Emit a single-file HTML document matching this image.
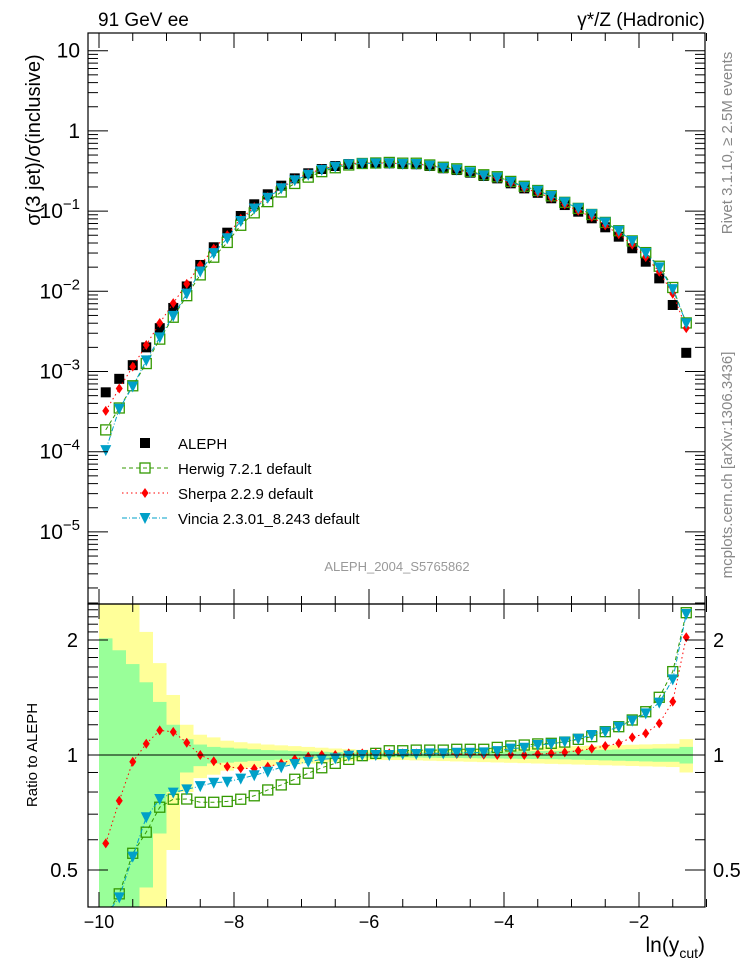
<!DOCTYPE html>
<html><head><meta charset="utf-8"><style>
body{margin:0;background:#fff;overflow:hidden}
svg{display:block;font-family:"Liberation Sans",sans-serif}
</style></head><body>
<svg id="c" width="746" height="972" xmlns="http://www.w3.org/2000/svg">
<defs>
<clipPath id="cm"><rect x="88" y="33" width="617" height="571"/></clipPath>
<clipPath id="cr"><rect x="88" y="604" width="617" height="303"/></clipPath>
</defs>
<g id="bands" clip-path="url(#cr)"></g>
<g id="marks"></g>
<g id="axes"></g>
<text x="98" y="26" font-size="19">91 GeV ee</text>
<text x="705" y="26" font-size="19" text-anchor="end">γ*/Z (Hadronic)</text>
<text transform="translate(40,140) rotate(-90)" font-size="20" text-anchor="middle">σ(3 jet)/σ(inclusive)</text>
<text transform="translate(37,755) rotate(-90)" font-size="15" text-anchor="middle">Ratio to ALEPH</text>
<text transform="translate(732,143) rotate(-90)" font-size="15" fill="#888" text-anchor="middle">Rivet 3.1.10, ≥ 2.5M events</text>
<text transform="translate(732,465) rotate(-90)" font-size="15" fill="#888" text-anchor="middle">mcplots.cern.ch [arXiv:1306.3436]</text>
<text x="397" y="571" font-size="13" fill="#999" text-anchor="middle">ALEPH_2004_S5765862</text>
<text x="705" y="952" font-size="21" text-anchor="end">ln(y<tspan font-size="14" dy="6">cut</tspan><tspan dy="-6">)</tspan></text>
<g id="legend"></g>
</svg>
<script>
const xs=[-9.9,-9.7,-9.5,-9.3,-9.1,-8.9,-8.7,-8.5,-8.3,-8.1,-7.9,-7.7,-7.5,-7.3,-7.1,-6.9,-6.7,-6.5,-6.3,-6.1,-5.9,-5.7,-5.5,-5.3,-5.1,-4.9,-4.7,-4.5,-4.3,-4.1,-3.9,-3.7,-3.5,-3.3,-3.1,-2.9,-2.7,-2.5,-2.3,-2.1,-1.9,-1.7,-1.5,-1.3];
const aleph=[5.5e-4,8.1e-4,1.2e-3,2.0e-3,3.47e-3,6.2e-3,1.15e-2,2.13e-2,3.54e-2,5.38e-2,8.69e-2,0.1216,0.162,0.2075,0.256,0.296,0.335,0.365,0.386,0.394,0.394,0.394,0.386,0.384,0.365,0.342,0.325,0.301,0.274,0.256,0.222,0.192,0.169,0.1445,0.119,0.0984,0.0813,0.0628,0.048,0.0344,0.0234,0.0145,0.00675,0.00171];
const herwigRatio=[0.34,0.433,0.553,0.628,0.73,0.766,0.767,0.752,0.752,0.756,0.766,0.782,0.81,0.835,0.864,0.896,0.926,0.951,0.974,0.996,1.01,1.026,1.026,1.03,1.03,1.03,1.035,1.035,1.035,1.047,1.056,1.062,1.069,1.073,1.081,1.099,1.117,1.151,1.186,1.235,1.298,1.416,1.653,2.358];
const sherpaRatio=[0.587,0.759,0.96,1.07,1.16,1.15,1.077,1.0,0.963,0.932,0.923,0.921,0.932,0.951,0.975,0.99,1.0,1.0,1.01,1.01,1.01,1.01,1.01,1.01,1.01,1.01,1.006,1.006,1.002,1.0,1.002,1.0,1.006,1.01,1.016,1.026,1.039,1.056,1.073,1.112,1.139,1.21,1.379,2.033];
const vinciaRatio=[0.19,0.424,0.542,0.687,0.767,0.797,0.813,0.829,0.846,0.851,0.867,0.885,0.904,0.929,0.947,0.96,0.974,0.98,0.996,1.0,1.0,1.0,1.006,1.006,1.01,1.01,1.014,1.014,1.016,1.024,1.039,1.045,1.062,1.069,1.084,1.103,1.128,1.151,1.186,1.23,1.285,1.371,1.578,2.34];
const statErr=[1.02,0.88,0.73,0.55,0.377,0.20,0.10,0.065,0.05,0.045,0.04,0.035,0.03,0.028,0.025,0.022,0.02,0.018,0.016,0.015,0.014,0.014,0.014,0.015,0.016,0.017,0.018,0.019,0.02,0.021,0.022,0.023,0.024,0.025,0.026,0.028,0.03,0.032,0.034,0.036,0.038,0.04,0.04,0.05];
const totErr=[2,2,2,1.1,0.74,0.436,0.2,0.13,0.112,0.09,0.08,0.072,0.065,0.06,0.055,0.05,0.045,0.04,0.036,0.032,0.03,0.03,0.03,0.032,0.034,0.036,0.038,0.04,0.042,0.044,0.046,0.048,0.05,0.052,0.054,0.056,0.058,0.06,0.062,0.064,0.066,0.068,0.07,0.1];
const xTicks=[-10,-8,-6,-4,-2];
const yDecades=[1,0,-1,-2,-3,-4,-5];
const ratioLabels=[0.5,1,2];

const NS="http://www.w3.org/2000/svg";
const X=v=>99+(v+10)*67.5;
const Y=v=>50.7+(1-Math.log10(v))*80.2;
const R=v=>755-Math.log10(Math.min(Math.max(v,0.38),2.6))*382;
function mk(tag,at,parent){const e=document.createElementNS(NS,tag);for(const k in at)e.setAttribute(k,at[k]);parent.appendChild(e);return e;}
const bands=document.getElementById('bands'),marks=document.getElementById('marks'),axes=document.getElementById('axes'),legend=document.getElementById('legend');

xs.forEach((x,i)=>{
  const x0=X(x-0.1),x1=X(x+0.1);
  const y1=R(1+totErr[i]),y2=R(1-totErr[i]);
  const b=mk('rect',{x:x0,y:y1,width:x1-x0,height:y2-y1,fill:'#ffff99'},bands);
  
  
  const g1=R(1+statErr[i]),g2=R(1-statErr[i]);
  const g=mk('rect',{x:x0,y:g1,width:x1-x0,height:g2-g1,fill:'#99ff99'},bands);
  
  
});
mk('line',{x1:88,x2:705,y1:R(1),y2:R(1),stroke:'#000','stroke-width':1},axes);

const herwig=aleph.map((a,i)=>a*herwigRatio[i]);
const sherpa=aleph.map((a,i)=>a*sherpaRatio[i]);
const vincia=aleph.map((a,i)=>a*vinciaRatio[i]);

function marker(type,cx,cy,parent,name){
  let e;
  if(type==='sq') e=mk('rect',{x:cx-5,y:cy-5,width:10,height:10,fill:'#000'},parent);
  else if(type==='osq') e=mk('rect',{x:cx-5,y:cy-5,width:10,height:10,fill:'none',stroke:'#339900','stroke-width':1.3},parent);
  else if(type==='dia') e=mk('polygon',{points:`${cx},${cy-5} ${cx+3.5},${cy} ${cx},${cy+5} ${cx-3.5},${cy}`,fill:'#ff0000'},parent);
  else e=mk('polygon',{points:`${cx-5.5},${cy-5} ${cx+5.5},${cy-5} ${cx},${cy+6}`,fill:'#00a0c8'},parent);
  
  
}
const series=[
  {vals:herwig,ratio:herwigRatio,type:'osq',col:'#339900',dash:'4,3',name:'herwig'},
  {vals:sherpa,ratio:sherpaRatio,type:'dia',col:'#ff0000',dash:'1.5,3',name:'sherpa'},
  {vals:vincia,ratio:vinciaRatio,type:'tri',col:'#00a0c8',dash:'5,2,1,2',name:'vincia'}
];
const gm=mk('g',{'clip-path':'url(#cm)'},marks);
const gr=mk('g',{'clip-path':'url(#cr)'},marks);
xs.forEach((x,i)=>marker('sq',X(x),Y(aleph[i]),gm,'aleph-point'));
series.forEach(s=>{
  const pl=mk('polyline',{points:xs.map((x,i)=>X(x)+','+Y(s.vals[i])).join(' '),fill:'none',stroke:s.col,'stroke-width':1,'stroke-dasharray':s.dash},gm);
  
  
  const pr=mk('polyline',{points:xs.map((x,i)=>X(x)+','+R(s.ratio[i])).join(' '),fill:'none',stroke:s.col,'stroke-width':1,'stroke-dasharray':s.dash},gr);
  
  
  xs.forEach((x,i)=>{
    marker(s.type,X(x),Y(s.vals[i]),gm,s.name+'-point');
    if(s.ratio[i]>=0.4&&s.ratio[i]<=2.5) marker(s.type,X(x),R(s.ratio[i]),gr,s.name+'-ratio-point');
  });
});

mk('rect',{x:88,y:33,width:617,height:571,fill:'none',stroke:'#000','stroke-width':1.2},axes);
mk('rect',{x:88,y:604,width:617,height:303,fill:'none',stroke:'#000','stroke-width':1.2},axes);
for(let v=-10;v<=-1;v+=0.5){
  const major=Math.abs(v%2)<1e-9, L=major?15:8, px=X(v);
  [[33,1],[604,-1],[604,1],[907,-1]].forEach(([y0,d])=>mk('line',{x1:px,x2:px,y1:y0,y2:y0+d*L,stroke:'#000'},axes));
}
xTicks.forEach(v=>{
  const t=mk('text',{x:X(v),y:928,'font-size':18,'text-anchor':'middle'},axes);
  t.textContent='\u2212'+Math.abs(v);
  
  
});
for(let d=-6;d<=1;d++){
  for(let m=1;m<10;m++){
    const v=m*Math.pow(10,d),py=Y(v);
    if(py<33||py>604)continue;
    const L=m===1?20:10;
    mk('line',{x1:88,x2:88+L,y1:py,y2:py,stroke:'#000'},axes);
    mk('line',{x1:705,x2:705-L,y1:py,y2:py,stroke:'#000'},axes);
  }
}
yDecades.forEach(d=>{
  const t=mk('text',{x:80,y:Y(Math.pow(10,d))+7,'font-size':21,'text-anchor':'end'},axes);
  
  
  if(d===1)t.textContent='10';else if(d===0)t.textContent='1';
  else{t.textContent='10';const s=document.createElementNS(NS,'tspan');s.setAttribute('dy','-9');s.setAttribute('font-size','15');s.textContent='\u2212'+Math.abs(d);t.appendChild(s);}
});
[0.4,0.5,0.6,0.7,0.8,0.9,1,1.1,1.2,1.3,1.4,1.5,1.6,1.7,1.8,1.9,2,2.1,2.2,2.3,2.4,2.5].forEach(v=>{
  const py=R(v),L=ratioLabels.includes(v)?20:10;
  mk('line',{x1:88,x2:88+L,y1:py,y2:py,stroke:'#000'},axes);
  mk('line',{x1:705,x2:705-L,y1:py,y2:py,stroke:'#000'},axes);
});
ratioLabels.forEach(v=>{
  [[78,'end'],[713,'start']].forEach(([x,a])=>{
    const t=mk('text',{x:x,y:R(v)+7,'font-size':20,'text-anchor':a},axes);
    t.textContent=String(v);
    
    
  });
});
const leg=[['sq','ALEPH',null,null],['osq','Herwig 7.2.1 default','#339900','4,3'],['dia','Sherpa 2.2.9 default','#ff0000','1.5,3'],['tri','Vincia 2.3.01_8.243 default','#00a0c8','5,2,1,2']];
leg.forEach((l,i)=>{
  const y=443+i*25;
  if(l[2]){const ln=mk('line',{x1:122,x2:168,y1:y,y2:y,stroke:l[2],'stroke-dasharray':l[3]},legend);
    
    }
  marker(l[0],145,y,legend,'legend-marker');
  const t=mk('text',{x:178,y:y+6,'font-size':15},legend);
  t.textContent=l[1];
  
  
});
</script>
</body></html>
